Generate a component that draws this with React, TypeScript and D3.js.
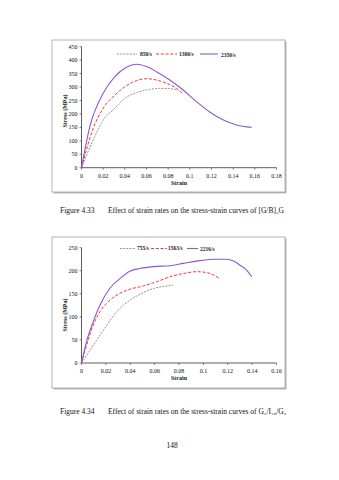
import React from "react";
import * as d3 from "d3";

// Figure 4.33 data
const s1Rates = ["850/s", "1300/s", "2350/s"];
const s1Strain850 = [0, 0.0108, 0.02, 0.0308, 0.04, 0.0508, 0.06, 0.0723, 0.0815, 0.0892];
const s1Stress850 = [0, 103, 177, 221, 258, 279, 289, 295, 294, 289];
const s1Strain1300 = [0, 0.0108, 0.02, 0.0308, 0.04, 0.0508, 0.06, 0.0692, 0.0785, 0.0877, 0.0938];
const s1Stress1300 = [0, 146, 221, 270, 301, 324, 331, 326, 314, 295, 274];
const s1Strain2350 = [0, 0.0077, 0.02, 0.0308, 0.04, 0.0508, 0.06, 0.0692, 0.0815, 0.0938, 0.106, 0.118, 0.131, 0.143, 0.157];
const s1Stress2350 = [0, 153, 277, 339, 370, 385, 376, 357, 326, 289, 246, 208, 177, 159, 150];
const s1YTicks = [0, 50, 100, 150, 200, 250, 300, 350, 400, 450];
const s1XTicks = [0, 0.02, 0.04, 0.06, 0.08, 0.1, 0.12, 0.14, 0.16, 0.18];

// Figure 4.34 data
const s2Rates = ["755/s", "1563/s", "2216/s"];
const s2Strain755 = [0, 0.0096, 0.0197, 0.0288, 0.0397, 0.0493, 0.0597, 0.0699, 0.0753];
const s2Stress755 = [0, 38, 78, 111, 136, 151, 162, 167, 169];
const s2Strain1563 = [0, 0.0041, 0.0096, 0.0151, 0.0233, 0.0315, 0.0397, 0.0507, 0.0616, 0.0726, 0.0836, 0.0945, 0.1027, 0.1082, 0.1137];
const s2Stress1563 = [0, 38, 82, 111, 136, 151, 160, 167, 176, 187, 194, 198, 196, 191, 182];
const s2Strain2216 = [0, 0.0041, 0.0096, 0.0151, 0.0233, 0.0315, 0.0397, 0.048, 0.0589, 0.0726, 0.0836, 0.0973, 0.111, 0.1192, 0.1247, 0.1301, 0.1356, 0.1397];
const s2Stress2216 = [0, 46, 89, 125, 162, 183, 199, 205, 209, 211, 216, 222, 225, 225, 221, 212, 201, 187];
const s2YTicks = [0, 50, 100, 150, 200, 250];
const s2XTicks = [0, 0.02, 0.04, 0.06, 0.08, 0.1, 0.12, 0.14, 0.16];

const zip = (xs: number[], ys: number[]) => xs.map((x, i) => [x, ys[i]] as [number, number]);

const styles = [
  { stroke: "#8a8a8a", dash: "2,1.2", width: 0.9 },
  { stroke: "#ff3030", dash: "3,1.8", width: 1 },
  { stroke: "#8a5ad6", dash: null, width: 1.1 },
];

const FONT = "'Liberation Serif', 'DejaVu Serif', serif";

type ChartProps = {
  box: { x0: number; y0: number; x1: number; y1: number };
  xDomain: [number, number];
  yDomain: [number, number];
  xRange: [number, number];
  yRange: [number, number];
  xTicks: number[];
  yTicks: number[];
  series: [number, number][][];
  labels: string[];
  legend: { y: number; items: { x0: number; x1: number; tx: number }[] };
  yLabelY: number;
  xLabelY: number;
};

function Chart(p: ChartProps) {
  const x = d3.scaleLinear().domain(p.xDomain).range(p.xRange);
  const y = d3.scaleLinear().domain(p.yDomain).range(p.yRange);
  const line = d3
    .line<[number, number]>()
    .x((d) => x(d[0]))
    .y((d) => y(d[1]))
    .curve(d3.curveMonotoneX);
  return (
    <g>
      <rect x={p.box.x0 + 1.5} y={p.box.y0 + 1.5} width={p.box.x1 - p.box.x0} height={p.box.y1 - p.box.y0} fill="#b8b8b8" />
      <rect x={p.box.x0} y={p.box.y0} width={p.box.x1 - p.box.x0} height={p.box.y1 - p.box.y0} fill="#fff" stroke="#a0a0a0" strokeWidth={0.8} />
      <line x1={p.xRange[0]} x2={p.xRange[0]} y1={p.yRange[0]} y2={p.yRange[1]} stroke="#333" strokeWidth={0.8} />
      <line x1={p.xRange[0]} x2={p.xRange[1]} y1={p.yRange[0]} y2={p.yRange[0]} stroke="#333" strokeWidth={0.8} />
      {p.yTicks.map((t) => (
        <g key={"y" + t}>
          <line x1={p.xRange[0] - 2} x2={p.xRange[0]} y1={y(t)} y2={y(t)} stroke="#333" strokeWidth={0.6} />
          <text x={p.xRange[0] - 4} y={y(t)} dy="0.35em" textAnchor="end" fontSize={6} fontFamily={FONT} fill="#111">
            {t}
          </text>
        </g>
      ))}
      {p.xTicks.map((t) => (
        <g key={"x" + t}>
          <line x1={x(t)} x2={x(t)} y1={p.yRange[0]} y2={p.yRange[0] + 2} stroke="#333" strokeWidth={0.6} />
          <text x={x(t)} y={p.yRange[0] + 10} textAnchor="middle" fontSize={6} fontFamily={FONT} fill="#111">
            {t === 0 ? "0" : String(Math.round(t * 100) / 100)}
          </text>
        </g>
      ))}
      <text x={(p.xRange[0] + p.xRange[1]) / 2} y={p.xLabelY} textAnchor="middle" fontSize={6} fontWeight="bold" fontFamily={FONT} fill="#222">
        Strain
      </text>
      <text
        transform={`translate(${p.box.x0 + 15},${p.yLabelY}) rotate(-90)`}
        textAnchor="middle"
        fontSize={6}
        fontWeight="bold"
        fontFamily={FONT}
        fill="#222"
      >
        Stress (MPa)
      </text>
      {p.series.map((s, i) => (
        <path
          key={i}
          d={line(s) || ""}
          fill="none"
          stroke={styles[i].stroke}
          strokeWidth={styles[i].width}
          strokeDasharray={styles[i].dash || undefined}
        />
      ))}
      {p.legend.items.map((it, i) => (
        <g key={"l" + i}>
          <line
            x1={it.x0}
            x2={it.x1}
            y1={p.legend.y}
            y2={p.legend.y}
            stroke={styles[i].stroke}
            strokeWidth={styles[i].width}
            strokeDasharray={styles[i].dash || undefined}
          />
          <text x={it.tx} y={p.legend.y + (i === 2 ? 1 : 0)} dy="0.35em" fontSize={5.5} fontWeight="bold" fontFamily={FONT} fill="#222">
            {p.labels[i]}
          </text>
        </g>
      ))}
    </g>
  );
}

export default function App() {
  return (
    <svg
      width={339}
      height={480}
      style={{ position: "absolute", left: 0, top: 0, background: "#fff" }}
    >
      <rect width={339} height={480} fill="#fff" />
      <Chart
        box={{ x0: 52, y0: 40, x1: 285, y1: 192 }}
        xDomain={[0, 0.18]}
        yDomain={[0, 450]}
        xRange={[81.5, 276.5]}
        yRange={[167.7, 46.7]}
        xTicks={s1XTicks}
        yTicks={s1YTicks}
        series={[zip(s1Strain850, s1Stress850), zip(s1Strain1300, s1Stress1300), zip(s1Strain2350, s1Stress2350)]}
        labels={s1Rates}
        legend={{
          y: 54,
          items: [
            { x0: 117, x1: 137, tx: 140 },
            { x0: 156, x1: 177, tx: 179 },
            { x0: 200, x1: 218, tx: 221 },
          ],
        }}
        yLabelY={111}
        xLabelY={185}
      />
      <Chart
        box={{ x0: 52, y0: 237, x1: 285, y1: 388 }}
        xDomain={[0, 0.16]}
        yDomain={[0, 250]}
        xRange={[81.5, 276.5]}
        yRange={[363, 247.7]}
        xTicks={s2XTicks}
        yTicks={s2YTicks}
        series={[zip(s2Strain755, s2Stress755), zip(s2Strain1563, s2Stress1563), zip(s2Strain2216, s2Stress2216)]}
        labels={s2Rates}
        legend={{
          y: 248.5,
          items: [
            { x0: 120, x1: 135, tx: 137 },
            { x0: 151, x1: 167, tx: 168 },
            { x0: 187, x1: 198, tx: 200 },
          ],
        }}
        yLabelY={315}
        xLabelY={380}
      />
      <text x={60} y={213} fontSize={7.5} fontFamily={FONT} fill="#111">
        Figure 4.33
      </text>
      <text x={108} y={213} fontSize={7.5} fontFamily={FONT} fill="#111">
        Effect of strain rates on the stress-strain curves of [G/B]₃G
      </text>
      <text x={60} y={414} fontSize={7.5} fontFamily={FONT} fill="#111">
        Figure 4.34
      </text>
      <text x={108} y={414} fontSize={7.5} fontFamily={FONT} fill="#111">
        Effect of strain rates on the stress-strain curves of G₃/I₁₅/G₂
      </text>
      <text x={172} y={448} textAnchor="middle" fontSize={7.5} fontFamily={FONT} fill="#111">
        148
      </text>
    </svg>
  );
}
